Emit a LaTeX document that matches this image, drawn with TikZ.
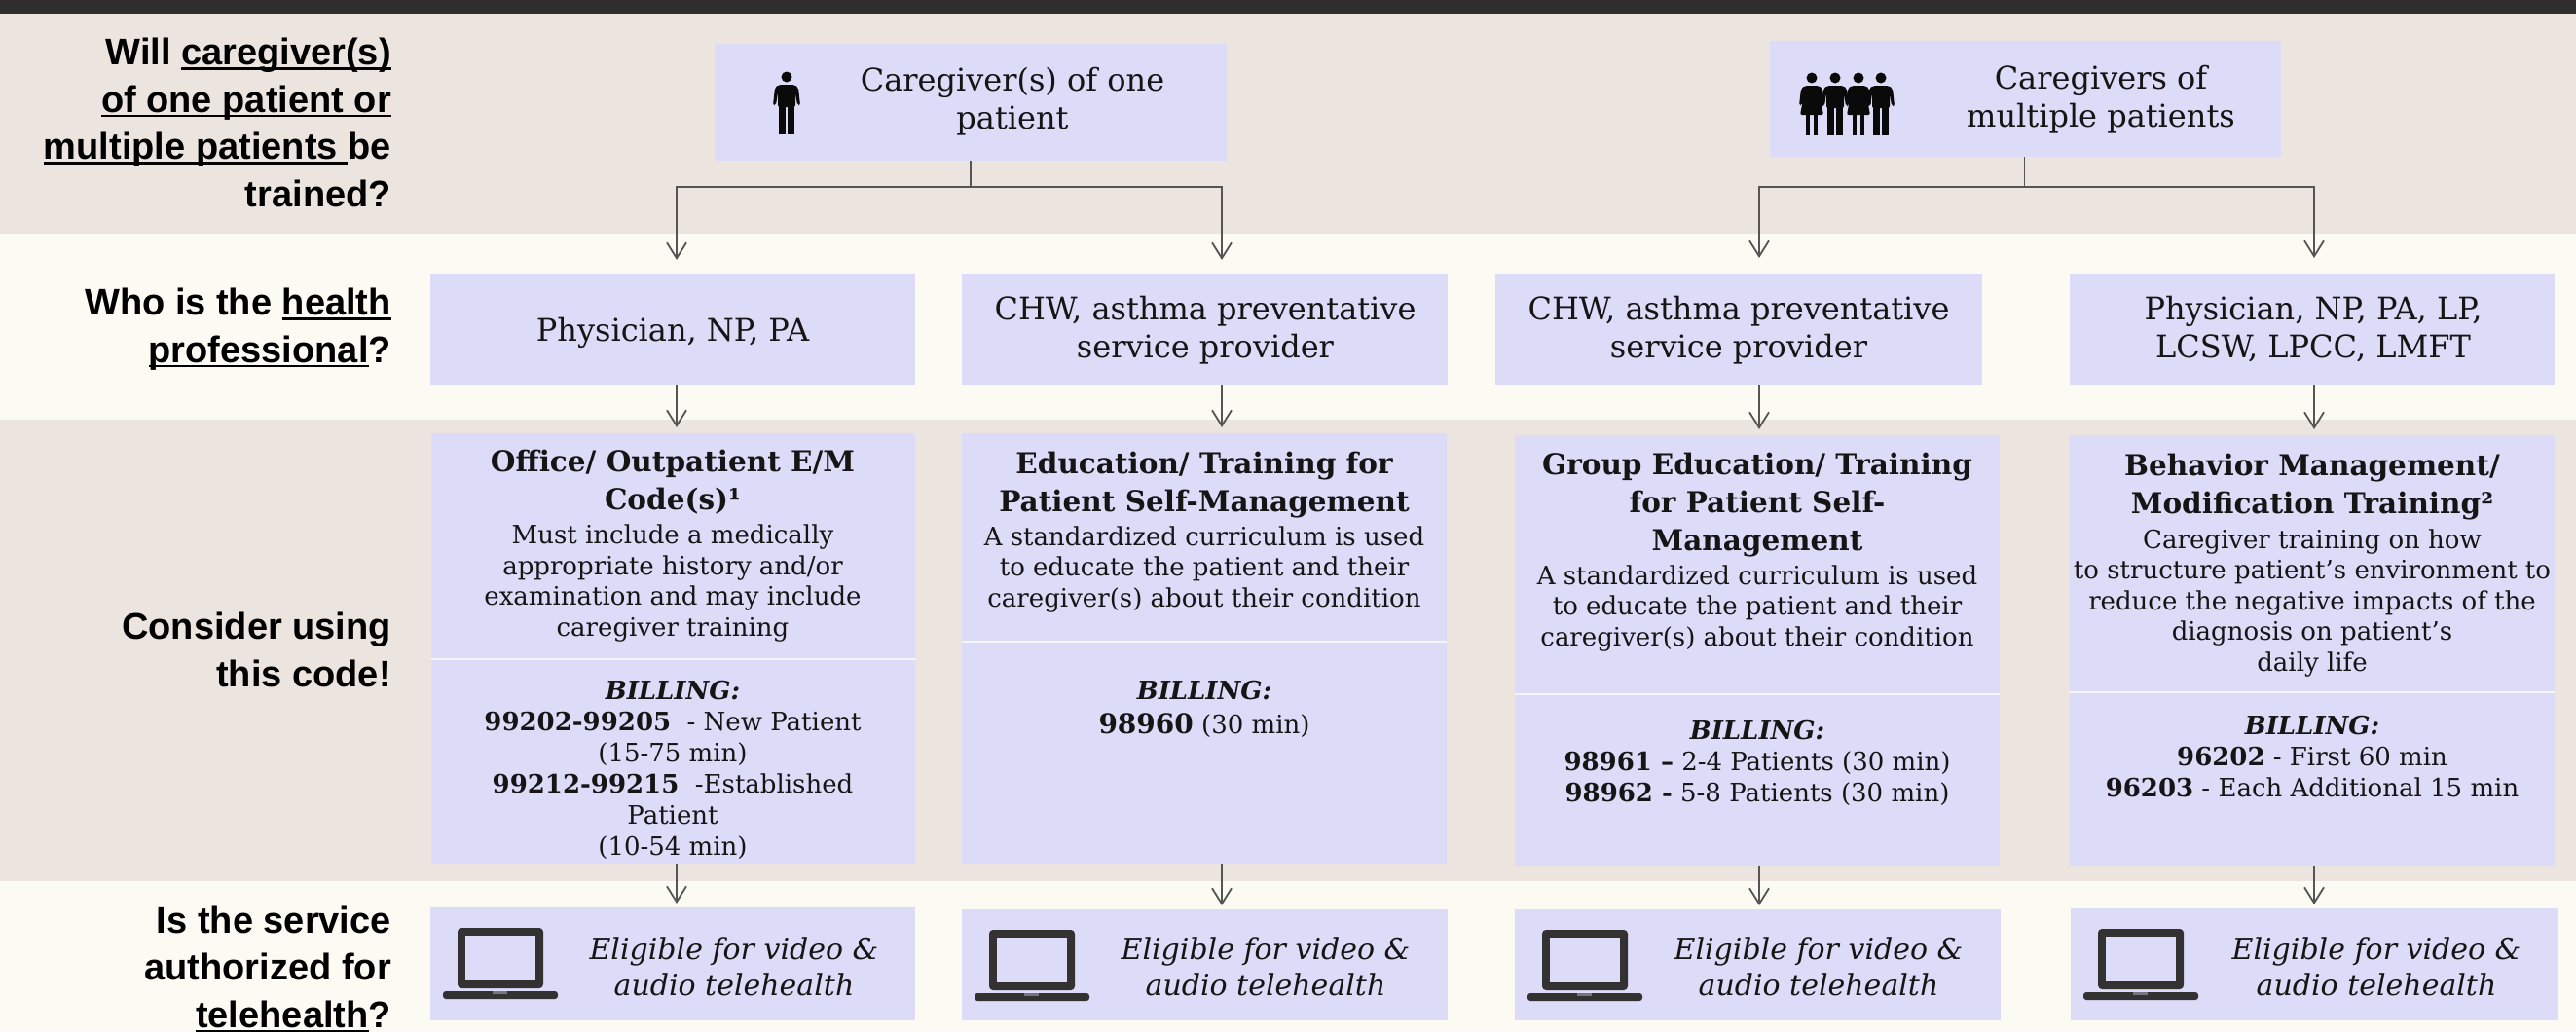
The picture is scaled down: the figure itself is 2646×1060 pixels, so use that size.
\documentclass[tikz,border=0pt]{standalone}
\usepackage{fontspec}
\setmainfont{DejaVu Serif}
\newfontfamily\labfont{Liberation Sans}
\usetikzlibrary{arrows.meta}
\definecolor{barc}{HTML}{2F2D2E}
\definecolor{beige}{HTML}{ECE5DF}
\definecolor{offw}{HTML}{FBFAF3}
\definecolor{boxc}{HTML}{DCDCF8}
\definecolor{arrc}{HTML}{555555}
\definecolor{iconc}{HTML}{333132}
\definecolor{divc}{HTML}{F6F6FD}
\definecolor{txtc}{HTML}{151515}
\newcommand\fsz[2]{\fontsize{#1}{#2}\selectfont}
\newcommand\ulx[1]{\setbox0\hbox{#1}\rlap{\rule[-5pt]{\wd0}{2.2pt}}\box0}
\newcommand\billhd{\textbf{\textit{BILLING:}}}
% note: multi-line nodes are anchored at the baseline of their LAST line
\tikzset{
  bx/.style={fill=boxc, draw=none, anchor=north west, inner sep=0pt, outer sep=0pt},
  lab/.style={font=\labfont\bfseries\fsz{38}{48.5}, align=right, anchor=base east, inner sep=0pt, text=black},
  big/.style={font=\fsz{32}{39}, align=center, anchor=base, inner sep=0pt, text=txtc},
  ttl/.style={font=\bfseries\fsz{29.5}{39}, align=center, anchor=base, inner sep=0pt, text=txtc},
  bod/.style={font=\fsz{26}{31.5}, align=center, anchor=base, inner sep=0pt, text=txtc},
  bil/.style={font=\fsz{26}{32}, align=center, anchor=base, inner sep=0pt, text=txtc},
  eli/.style={font=\itshape\fsz{30}{37}, align=center, anchor=base, inner sep=0pt, text=txtc},
  arr/.style={draw=arrc, line width=1.8pt, -{Straight Barb[length=16pt,width=20pt]}},
  dv/.style={draw=divc, line width=2pt},
  manpic/.pic={
    \fill[iconc!20!black] (0,0) circle (5.5);
    \fill[iconc!20!black, rounded corners=2] (-8,8) -- (8,8) -- (12,11) -- (14,29) -- (11,29) -- (9,16) -- (9,31) -- (-9,31) -- (-9,16) -- (-11,29) -- (-14,29) -- (-12,11) -- cycle;
    \fill[iconc!20!black] (-8,30) rectangle (-1,59);
    \fill[iconc!20!black] (1,30) rectangle (8,59);
  },
  womanpic/.pic={
    \fill[iconc!20!black] (0,0) circle (5.5);
    \fill[iconc!20!black, rounded corners=2] (-7,8) -- (7,8) -- (11,11) -- (13,28) -- (10,28) -- (8,17) -- (12,38) -- (-12,38) -- (-8,17) -- (-10,28) -- (-13,28) -- (-11,11) -- cycle;
    \fill[iconc!20!black] (-6,37) rectangle (-2,59);
    \fill[iconc!20!black] (2,37) rectangle (6,59);
  },
  laptop/.pic={
    \fill[iconc, rounded corners=4] (28,21) rectangle (116,83);
    \fill[boxc] (36,29) rectangle (108,75);
    \fill[iconc, rounded corners=3] (13,86) -- (131,86) -- (131,94) -- (13,94) -- cycle;
    \fill[iconc!60!boxc] (64,86) rectangle (79,89);
  },
}
\begin{document}
\begin{tikzpicture}[x=1pt,y=-1pt]
\useasboundingbox (0,0) rectangle (2646,1060);
% bands
\fill[barc] (0,0) rectangle (2646,14);
\fill[beige] (0,14) rectangle (2646,240);
\fill[offw] (0,240) rectangle (2646,431);
\fill[beige] (0,431) rectangle (2646,905);
\fill[offw] (0,905) rectangle (2646,1060);

% left labels
\node[lab] (q1) at (402,212) {Will \ulx{caregiver(s)}\\\ulx{of one patient or}\\\ulx{multiple patients }be\\trained?};
\node[lab] (q2) at (402,372) {Who is the \ulx{health}\\\ulx{professional}?};
\node[lab] (q3) at (402,705) {Consider using\\this code!};
\node[lab] (q4) at (402,1055) {Is the service\\authorized for\\\ulx{telehealth}?};

% row 1
\node[bx, minimum width=526, minimum height=120] (t1) at (734,45) {};
\node[bx, minimum width=525, minimum height=119] (t2) at (1818,42) {};
\pic at (808,79) {manpic};
\pic at (1861,80) {womanpic};
\pic at (1885,80) {manpic};
\pic at (1909,80) {womanpic};
\pic at (1932,80) {manpic};
\node[big] (t1t) at (1040,132) {Caregiver(s) of one\\patient};
\node[big] (t2t) at (2158,130) {Caregivers of\\multiple patients};

% row 2
\node[bx, minimum width=498, minimum height=114] (p1) at (442,281) {};
\node[bx, minimum width=499, minimum height=114] (p2) at (988,281) {};
\node[bx, minimum width=500, minimum height=114] (p3) at (1536,281) {};
\node[bx, minimum width=498, minimum height=114] (p4) at (2126,281) {};
\node[big] (p1t) at (691,350) {Physician, NP, PA};
\node[big] (p2t) at (1238,367) {CHW, asthma preventative\\service provider};
\node[big] (p3t) at (1786,367) {CHW, asthma preventative\\service provider};
\node[big] (p4t) at (2376,367) {Physician, NP, PA, LP,\\LCSW, LPCC, LMFT};

% row 3
\node[bx, minimum width=497, minimum height=442] (c1) at (443,445) {};
\node[bx, minimum width=498, minimum height=442] (c2) at (988,445) {};
\node[bx, minimum width=498, minimum height=442] (c3) at (1556,447) {};
\node[bx, minimum width=498, minimum height=442] (c4) at (2126,447) {};
\draw[dv] (c1.west |- 0,677) -- (c1.east |- 0,677);
\draw[dv] (c2.west |- 0,659) -- (c2.east |- 0,659);
\draw[dv] (c3.west |- 0,713) -- (c3.east |- 0,713);
\draw[dv] (c4.west |- 0,711) -- (c4.east |- 0,711);

\node[ttl] (c1h) at (691,523) {Office/ Outpatient E/M\\Code(s)¹};
\node[bod] (c1b) at (691,653) {Must include a medically\\appropriate history and/or\\examination and may include\\caregiver training};
\node[bil] (c1p) at (691,878) {\billhd\\\textbf{99202-99205}\ \ - New Patient\\(15-75 min)\\\textbf{99212-99215}\ \ -Established\\Patient\\(10-54 min)};

\node[ttl] (c2h) at (1237,525) {Education/ Training for\\Patient Self-Management};
\node[bod] (c2b) at (1237,623) {A standardized curriculum is used\\to educate the patient and their\\caregiver(s) about their condition};
\node[bil] (c2p) at (1237,753) {\billhd\\[3pt]{\bfseries\fsz{28}{32}98960} (30 min)};

\node[ttl] (c3h) at (1805,565) {Group Education/ Training\\for Patient Self-\\Management};
\node[bod] (c3b) at (1805,663) {A standardized curriculum is used\\to educate the patient and their\\caregiver(s) about their condition};
\node[bil] (c3p) at (1805,823) {\billhd\\\textbf{98961 –} 2-4 Patients (30 min)\\\textbf{98962 -} 5-8 Patients (30 min)};

\node[ttl] (c4h) at (2375,527) {Behavior Management/\\Modification Training²};
\node[bod] (c4b) at (2375,689) {Caregiver training on how\\to structure patient’s environment to\\reduce the negative impacts of the\\diagnosis on patient’s\\daily life};
\node[bil] (c4p) at (2375,818) {\billhd\\\textbf{96202} - First 60 min\\\textbf{96203} - Each Additional 15 min};

% row 4
\node[bx, minimum width=498, minimum height=116] (e1) at (442,932) {};
\node[bx, minimum width=499, minimum height=114] (e2) at (988,934) {};
\node[bx, minimum width=499, minimum height=114] (e3) at (1556,934) {};
\node[bx, minimum width=500, minimum height=115] (e4) at (2127,933) {};
\pic at (e1.north west) {laptop};
\pic at (e2.north west) {laptop};
\pic at (e3.north west) {laptop};
\pic at (e4.north west) {laptop};
\node[eli] (e1t) at (754,1022) {Eligible for video \&\\audio telehealth};
\node[eli] (e2t) at (1300,1022) {Eligible for video \&\\audio telehealth};
\node[eli] (e3t) at (1868,1022) {Eligible for video \&\\audio telehealth};
\node[eli] (e4t) at (2441,1022) {Eligible for video \&\\audio telehealth};

% connectors
\path (0,192) coordinate (hy);
\coordinate (a1) at (695,267);
\coordinate (a2) at (1255,267);
\coordinate (a3) at (1807,265);
\coordinate (a4) at (2377,265);
\draw[arr] (t1.south) |- (hy -| a1) -- (a1);
\draw[arr] (t1.south) |- (hy -| a2) -- (a2);
\draw[arr] ([xshift=-1pt]t2.south) |- (hy -| a3) -- (a3);
\draw[arr] ([xshift=-1pt]t2.south) |- (hy -| a4) -- (a4);

\draw[arr] (p1.south -| a1) -- ([yshift=6pt]c1.north -| a1);
\draw[arr] (p2.south -| a2) -- ([yshift=6pt]c2.north -| a2);
\draw[arr] (p3.south -| a3) -- ([yshift=6pt]c3.north -| a3);
\draw[arr] (p4.south -| a4) -- ([yshift=6pt]c4.north -| a4);

\draw[arr] (c1.south -| a1) -- ([yshift=4pt]e1.north -| a1);
\draw[arr] (c2.south -| a2) -- ([yshift=4pt]e2.north -| a2);
\draw[arr] (c3.south -| a3) -- ([yshift=4pt]e3.north -| a3);
\draw[arr] (c4.south -| a4) -- ([yshift=4pt]e4.north -| a4);
\end{tikzpicture}
\end{document}
